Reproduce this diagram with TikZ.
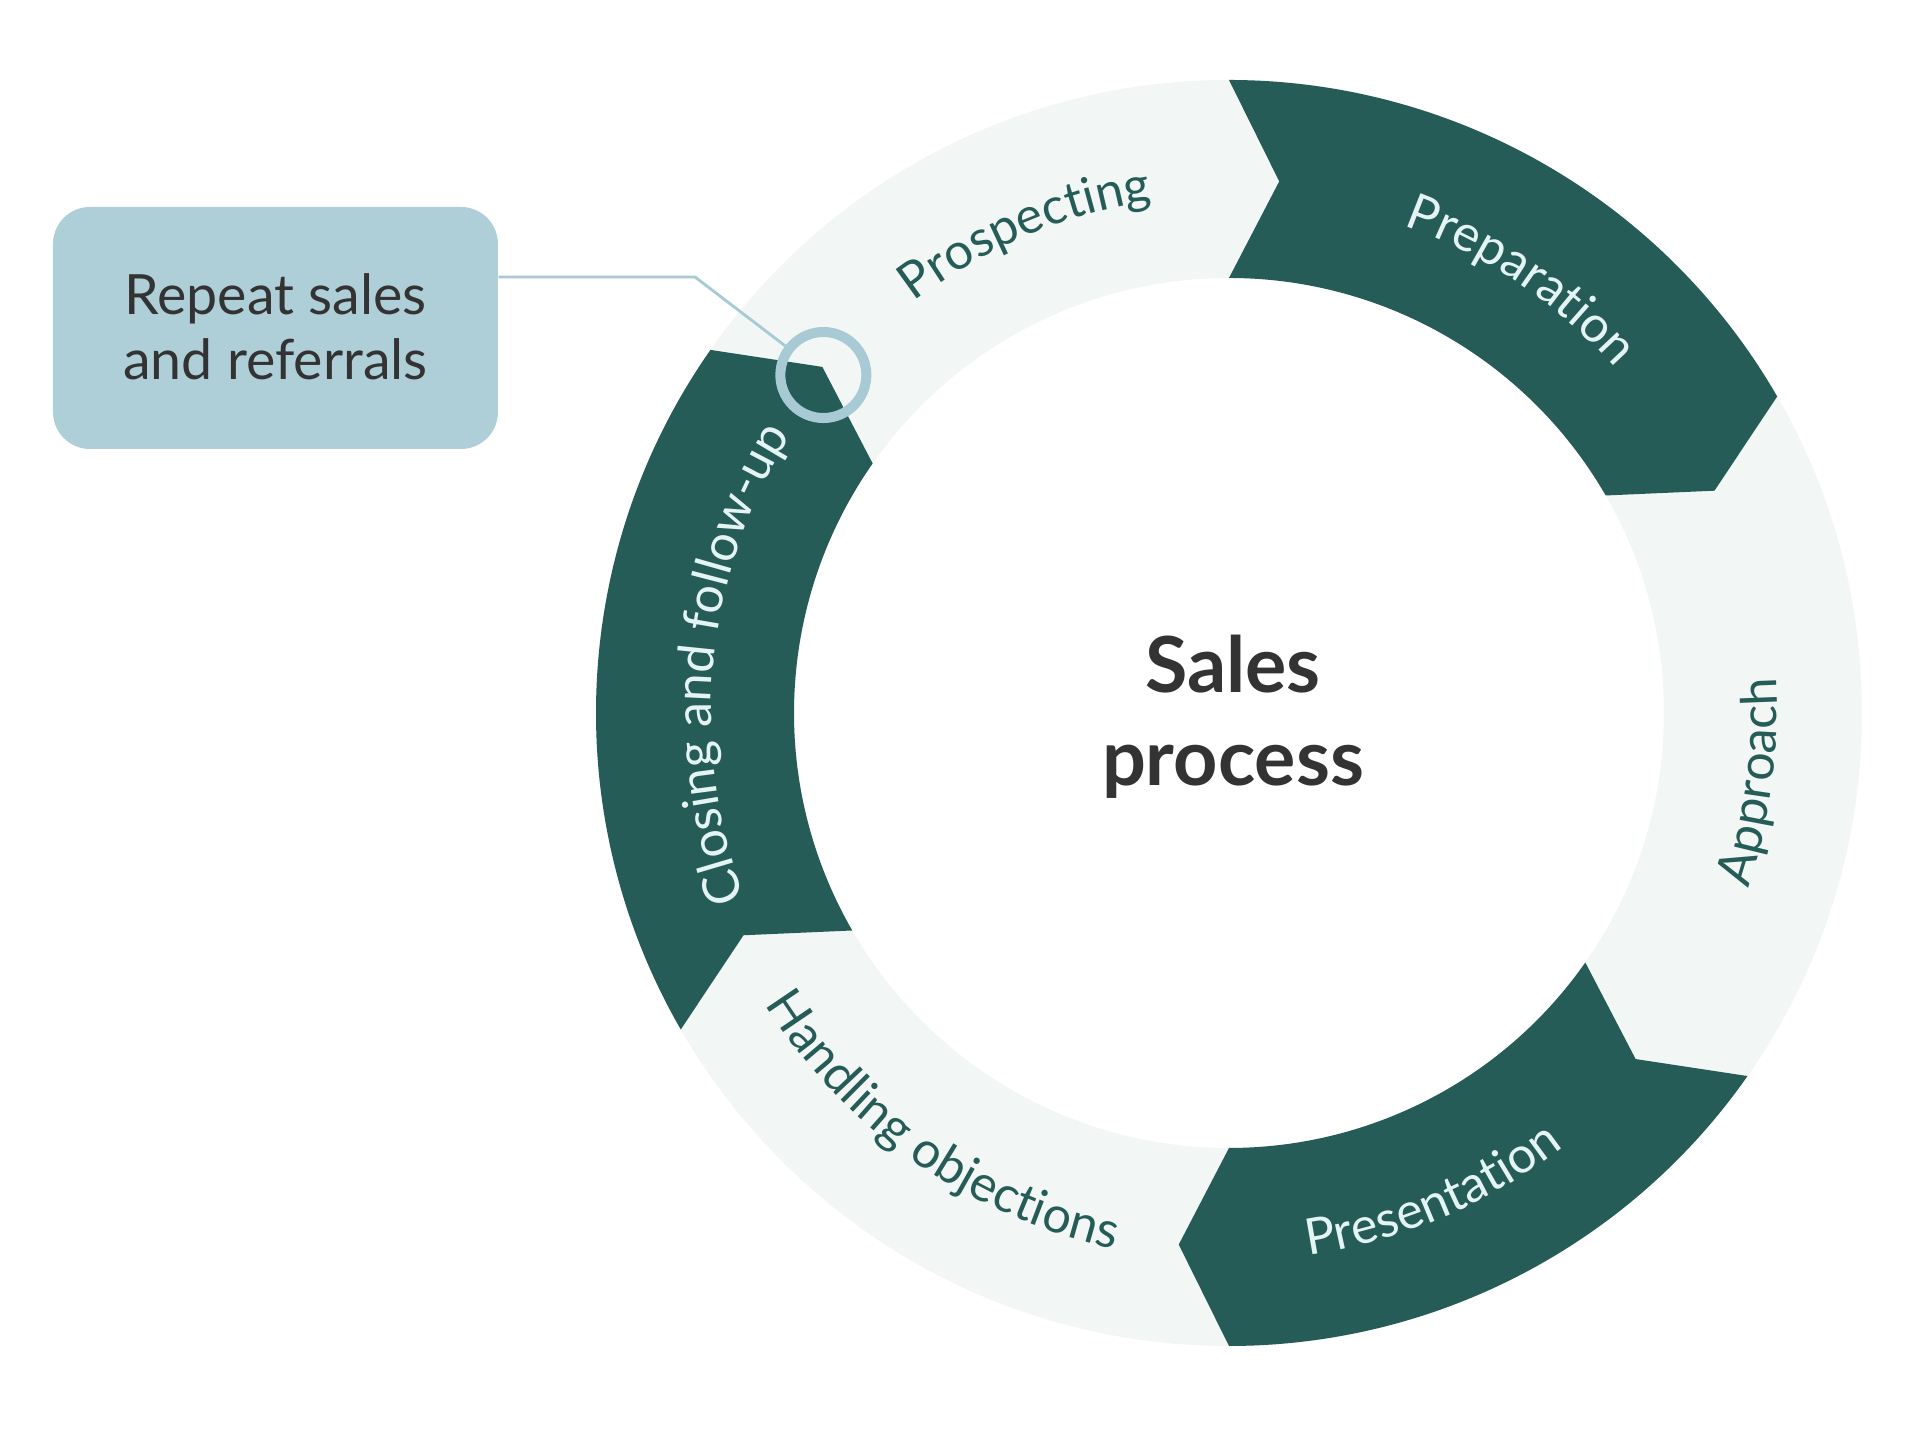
\documentclass[tikz,border=0pt]{standalone}
\usepackage{fontspec}
\setmainfont{Lato}
\usepackage{tikz}
\usetikzlibrary{positioning,decorations.text}
\definecolor{segdark}{RGB}{38,92,87}
\definecolor{seglight}{RGB}{242,246,245}
\definecolor{calloutblue}{RGB}{175,207,216}
\definecolor{markblue}{RGB}{168,202,212}
\definecolor{segtext}{RGB}{228,243,243}
\definecolor{titlegray}{RGB}{51,51,51}
\newcommand{\segfont}{\fontsize{14.3}{17}\selectfont}
\tikzset{
  ring/.style={fill=seglight,even odd rule},
  darkseg/.style={fill=segdark},
  callout/.style={rectangle,rounded corners=3.7mm,fill=calloutblue,align=center,minimum width=4.45cm,minimum height=2.42cm,text=titlegray,font=\fontsize{15.8}{18.5}\selectfont},
  title/.style={align=center,text=titlegray,font=\bfseries\fontsize{22}{26.5}\selectfont},
  marker/.style={circle,draw=markblue,line width=1mm,minimum size=8.6mm,inner sep=0pt},
  leader/.style={draw=markblue,line width=0.8pt}
}
\begin{document}
\begin{tikzpicture}
  \path[use as bounding box,fill=white] (-12.29,-7.43) rectangle (7.01,7.13);
  \fill[ring] (0,0) circle (6.33) (0,0) circle (4.35);
  \foreach \a/\b in {90/30,-35/-90,210/145}
    \fill[darkseg] (\a:6.33) arc[start angle=\a,end angle=\b,radius=6.33] -- (\b-5.4:5.34)
      -- (\b:4.35) arc[start angle=\b,end angle=\a,radius=4.35] -- (\a-5.4:5.34) -- cycle;
  \foreach \c/\col/\txt in {113/segdark/Prospecting,56/segtext/Preparation,174.3/segtext/Closing and follow-up}
    \path[decorate,decoration={text along path,text align=center,
      text/.expanded={|\noexpand\segfont\noexpand\color{\col}|\txt}}]
      (\c+40:5.18) arc[start angle=\c+40,end angle=\c-40,radius=5.18];
  \foreach \c/\col/\txt in {-7.5/segdark/Approach,-67/segtext/Presentation,235/segdark/Handling objections}
    \path[decorate,decoration={text along path,text align=center,
      text/.expanded={|\noexpand\segfont\noexpand\color{\col}|\txt}}]
      (\c-40:5.48) arc[start angle=\c-40,end angle=\c+40,radius=5.48];
  \node[title] (sales) at (0.04,-0.04) {Sales\\process};
  \node[callout] (repeat) at (-9.535,3.85) {\raisebox{0.35mm}{Repeat sales}\\\raisebox{0.35mm}{and referrals}};
  \node[marker] (mark) at (140.2:5.28) {};
  \coordinate (bend) at (-5.34,4.36);
  \draw[leader] (repeat.east |- bend) -- (bend) -- (mark);
\end{tikzpicture}
\end{document}
